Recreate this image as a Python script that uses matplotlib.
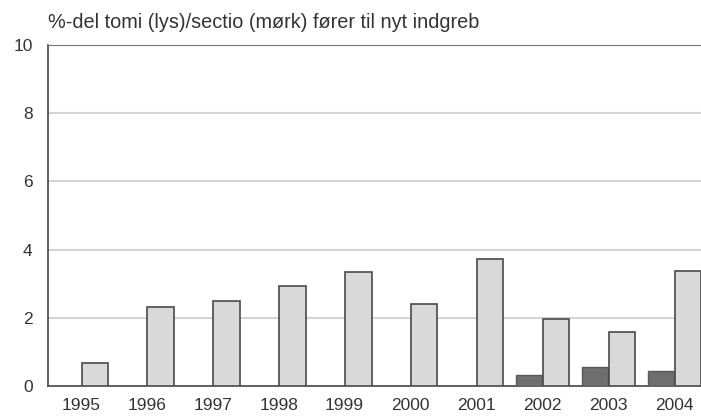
import matplotlib
matplotlib.use('Agg')
import matplotlib.pyplot as plt
import numpy as np

plt.rcParams['font.family'] = ['Liberation Sans', 'DejaVu Sans']

# data
years = [1995, 1996, 1997, 1998, 1999, 2000, 2001, 2002, 2003, 2004]
tomi = [0.67, 2.32, 2.49, 2.93, 3.34, 2.40, 3.72, 1.96, 1.58, 3.37]
sectio = [0, 0, 0, 0, 0, 0, 0, 0.32, 0.56, 0.44]
yticks = [0, 2, 4, 6, 8, 10]
title = '%-del tomi (lys)/sectio (mørk) fører til nyt indgreb'

fig = plt.figure(figsize=(7.01, 4.17), dpi=100)
ax = fig.add_axes([48/701, 1 - 386/417, 1 - 48/701, (386 - 45)/417])

x = np.array(years, dtype=float)
w = 0.4
sec_x = [xi - 0.2 for xi, s in zip(x, sectio) if s > 0]
sec_v = [s for s in sectio if s > 0]
ax.bar(sec_x, sec_v, width=w, color='#6e6e6e', edgecolor='#5a5a5a', linewidth=1, zorder=3)
ax.bar(x + 0.21, tomi, width=w, color='#d9d9d9', edgecolor='#4a4a4a', linewidth=1.2, zorder=3)

ax.set_xlim(1994.5, 2004.41)
ax.set_ylim(0, 10)
ax.set_yticks(yticks)
ax.set_xticks(years)
ax.set_xticklabels([str(y) for y in years])
ax.tick_params(length=0, labelsize=12.5, colors='#333333')
ax.tick_params(axis='y', pad=11)
ax.tick_params(axis='x', pad=9)

for v in yticks[1:-1]:
    ax.axhline(v, color='#d4d4d4', linewidth=1.5, zorder=1)

ax.spines['right'].set_visible(False)
ax.spines['top'].set_color('#777777')
ax.spines['left'].set_color('#444444')
ax.spines['bottom'].set_color('#444444')
ax.spines['left'].set_linewidth(1.2)
ax.spines['bottom'].set_linewidth(1.2)

fig.text(48/701, 1 - 22/417, title, fontsize=14.3, color='#333333', va='center', ha='left')

fig.savefig('out.png', dpi=100)
